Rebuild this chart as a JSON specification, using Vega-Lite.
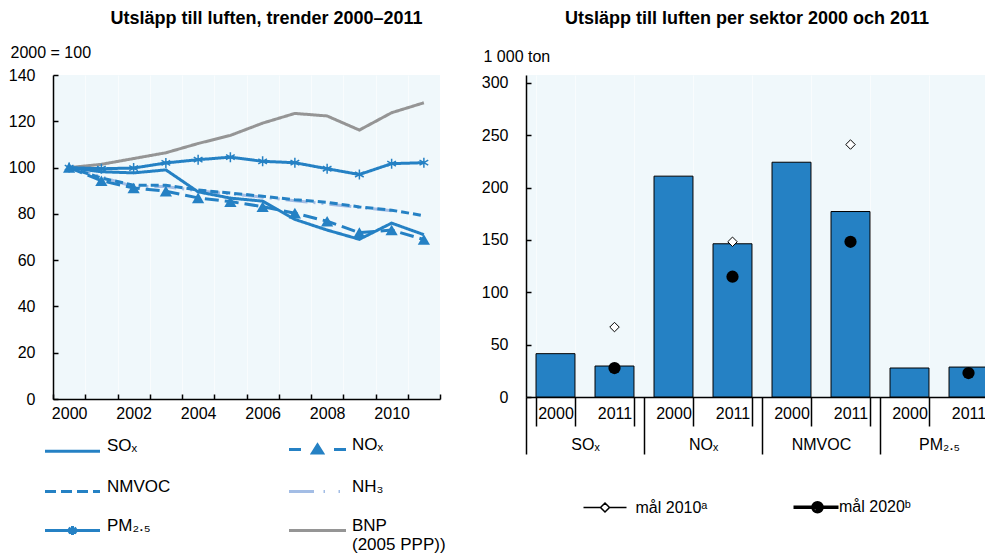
{
"$schema":"https://vega.github.io/schema/vega-lite/v6.json",
"padding":{"left":8,"top":10,"right":0,"bottom":0},
"config":{
 "font":"Liberation Sans, Arial, sans-serif",
 "view":{"fill":"#f0f8fb","stroke":null},
 "axis":{"domainColor":"#000000","domainWidth":1.5,"tickColor":"#000000","tickWidth":1.5,"labelColor":"#000000","labelFontSize":16,"titleFontSize":16,"titleFontWeight":"normal","titleColor":"#000000","grid":false},
 "title":{"fontSize":18,"fontWeight":"bold","color":"#000000"},
 "legend":{"labelFontSize":17,"labelColor":"#000000"}
},
"datasets":{
 "trend":[
  {"series":"BNP","year":2000,"value":100},{"series":"BNP","year":2001,"value":101.4},{"series":"BNP","year":2002,"value":103.9},{"series":"BNP","year":2003,"value":106.4},{"series":"BNP","year":2004,"value":110.4},{"series":"BNP","year":2005,"value":113.9},{"series":"BNP","year":2006,"value":119.2},{"series":"BNP","year":2007,"value":123.4},{"series":"BNP","year":2008,"value":122.3},{"series":"BNP","year":2009,"value":116.2},{"series":"BNP","year":2010,"value":123.7},{"series":"BNP","year":2011,"value":128.0},
  {"series":"NH₃","year":2000,"value":100},{"series":"NH₃","year":2001,"value":96.0},{"series":"NH₃","year":2002,"value":91.8},{"series":"NH₃","year":2003,"value":91.8},{"series":"NH₃","year":2004,"value":90.0},{"series":"NH₃","year":2005,"value":88.6},{"series":"NH₃","year":2006,"value":87.2},{"series":"NH₃","year":2007,"value":85.7},{"series":"NH₃","year":2008,"value":84.3},{"series":"NH₃","year":2009,"value":82.8},{"series":"NH₃","year":2010,"value":81.3},
  {"series":"NMVOC","year":2000,"value":100},{"series":"NMVOC","year":2001,"value":95.5},{"series":"NMVOC","year":2002,"value":92.4},{"series":"NMVOC","year":2003,"value":92.4},{"series":"NMVOC","year":2004,"value":90.3},{"series":"NMVOC","year":2005,"value":89.0},{"series":"NMVOC","year":2006,"value":87.6},{"series":"NMVOC","year":2007,"value":86.1},{"series":"NMVOC","year":2008,"value":85.0},{"series":"NMVOC","year":2009,"value":83.0},{"series":"NMVOC","year":2010,"value":81.6},{"series":"NMVOC","year":2011,"value":79.2},
  {"series":"SOₓ","year":2000,"value":100},{"series":"SOₓ","year":2001,"value":98.2},{"series":"SOₓ","year":2002,"value":97.7},{"series":"SOₓ","year":2003,"value":99.0},{"series":"SOₓ","year":2004,"value":89.5},{"series":"SOₓ","year":2005,"value":86.8},{"series":"SOₓ","year":2006,"value":85.5},{"series":"SOₓ","year":2007,"value":77.6},{"series":"SOₓ","year":2008,"value":73.0},{"series":"SOₓ","year":2009,"value":69.0},{"series":"SOₓ","year":2010,"value":76.0},{"series":"SOₓ","year":2011,"value":71.0},
  {"series":"NOₓ","year":2000,"value":100},{"series":"NOₓ","year":2001,"value":94.3},{"series":"NOₓ","year":2002,"value":91.2},{"series":"NOₓ","year":2003,"value":89.8},{"series":"NOₓ","year":2004,"value":86.9},{"series":"NOₓ","year":2005,"value":85.3},{"series":"NOₓ","year":2006,"value":83.1},{"series":"NOₓ","year":2007,"value":80.3},{"series":"NOₓ","year":2008,"value":76.8},{"series":"NOₓ","year":2009,"value":71.9},{"series":"NOₓ","year":2010,"value":73.0},{"series":"NOₓ","year":2011,"value":68.9},
  {"series":"PM₂.₅","year":2000,"value":100},{"series":"PM₂.₅","year":2001,"value":99.5},{"series":"PM₂.₅","year":2002,"value":99.8},{"series":"PM₂.₅","year":2003,"value":102.0},{"series":"PM₂.₅","year":2004,"value":103.4},{"series":"PM₂.₅","year":2005,"value":104.5},{"series":"PM₂.₅","year":2006,"value":102.7},{"series":"PM₂.₅","year":2007,"value":102.1},{"series":"PM₂.₅","year":2008,"value":99.5},{"series":"PM₂.₅","year":2009,"value":97.0},{"series":"PM₂.₅","year":2010,"value":101.7},{"series":"PM₂.₅","year":2011,"value":102.1}
 ],
 "bars":[
  {"sektor":"SOₓ","key":"SOₓ|2000","value":41.4},{"sektor":"SOₓ","key":"SOₓ|2011","value":29.6},
  {"sektor":"NOₓ","key":"NOₓ|2000","value":211},{"sektor":"NOₓ","key":"NOₓ|2011","value":146.4},
  {"sektor":"NMVOC","key":"NMVOC|2000","value":224.3},{"sektor":"NMVOC","key":"NMVOC|2011","value":177.2},
  {"sektor":"PM₂.₅","key":"PM₂.₅|2000","value":27.7},{"sektor":"PM₂.₅","key":"PM₂.₅|2011","value":28.6}
 ],
 "targets":[
  {"target":"mål 2010ᵃ","key":"SOₓ|2011","value":66.8},{"target":"mål 2010ᵃ","key":"NOₓ|2011","value":148.3},{"target":"mål 2010ᵃ","key":"NMVOC|2011","value":241.2},
  {"target":"mål 2020ᵇ","key":"SOₓ|2011","value":27.7},{"target":"mål 2020ᵇ","key":"NOₓ|2011","value":114.9},{"target":"mål 2020ᵇ","key":"NMVOC|2011","value":148.3},{"target":"mål 2020ᵇ","key":"PM₂.₅|2011","value":22.9}
 ]
},
"columns":2,
"spacing":35,
"align":"none",
"resolve":{"scale":{"shape":"independent","color":"independent"},"legend":{"shape":"independent","color":"independent"}},
"concat":[
 {
  "width":387,"height":324,
  "title":{"text":"Utsläpp till luften, trender 2000–2011","anchor":"middle","dx":20,"offset":16},
  "data":{"name":"trend"},
  "encoding":{
   "x":{"field":"year","type":"ordinal","bandPosition":0.5,
    "scale":{"type":"band","paddingInner":0,"paddingOuter":0},
    "axis":{"title":null,"labelAngle":0,"tickBand":"extent","tickSize":-5,"labelPadding":11,"labelExpr":"datum.value % 2 === 0 ? datum.label : ''","grid":true,"gridColor":"#ffffff","gridOpacity":0.6}},
   "y":{"field":"value","type":"quantitative","scale":{"domain":[0,140]},
    "axis":{"values":[0,20,40,60,80,100,120,140],"tickSize":-5,"labelPadding":23,"title":"2000 = 100","titleAngle":0,"titleAlign":"left","titleBaseline":"alphabetic","titleX":-43,"titleY":-18}}
  },
  "layer":[
   {"mark":{"type":"line","strokeWidth":3},
    "encoding":{
     "stroke":{"field":"series","type":"nominal","scale":{"domain":["SOₓ","NOₓ","NMVOC","NH₃","PM₂.₅","BNP"],"range":["#2581c4","#2581c4","#2581c4","#a3bde5","#2581c4","#959595"]},"legend":null},
     "strokeDash":{"field":"series","type":"nominal","scale":{"domain":["SOₓ","NOₓ","NMVOC","NH₃","PM₂.₅","BNP"],"range":[[1,0],[14,6],[8,4],[22,6,2,6,2,6],[1,0],[1,0]]},"legend":null}
    }},
   {"transform":[{"filter":"datum.series === 'NOₓ'"}],
    "mark":{"type":"point","shape":"triangle-up","filled":true,"color":"#2581c4","size":150,"opacity":1}},
   {"transform":[{"filter":"datum.series === 'PM₂.₅'"}],
    "mark":{"type":"point","shape":"M0,-1V1M-0.87,-0.5L0.87,0.5M-0.87,0.5L0.87,-0.5","filled":false,"color":"#2581c4","size":100,"strokeWidth":1.5,"opacity":1}},
   {"transform":[{"filter":"datum.year === 2000"}],
    "mark":{"type":"point","filled":false,"opacity":0,"strokeWidth":3},
    "encoding":{
     "color":{"field":"series","type":"nominal","scale":{"domain":["SOₓ","NOₓ","NMVOC","NH₃","PM₂.₅","BNP"],"range":["#2581c4","#2581c4","#2581c4","#a3bde5","#2581c4","#959595"]},
      "legend":{"orient":"none","legendX":-8,"legendY":363,"columns":2,"direction":"horizontal","title":null,
       "symbolSize":400,"symbolOffset":16,"labelOffset":23,"columnPadding":112,"rowPadding":18,"symbolStrokeWidth":3,"symbolOpacity":1,
       "labelFontSize":17,"labelBaseline":"alphabetic",
       "labelExpr":"datum.label === 'BNP' ? ['BNP','(2005 PPP))'] : datum.label"}},
     "shape":{"field":"series","type":"nominal",
      "scale":{"domain":["SOₓ","NOₓ","NMVOC","NH₃","PM₂.₅","BNP"],
       "range":["M-2.75,0H2.75","M-2.85,0H-1.65M-0.5,0.35L0,-0.45L0.5,0.35ZM-0.2,0.2L0,-0.15L0.2,0.2ZM1.65,0H2.85","M-2.75,0H-1.65M-1.15,0H-0.05M0.45,0H1.55M2.05,0H2.75","M-2.85,0H-0.35M0.6,0H0.75M2.1,0H2.25","M-2.75,0H2.75M0,-0.45V0.45M-0.4,-0.25L0.4,0.25M-0.4,0.25L0.4,-0.25","M-2.85,0H2.85"]},
      "legend":{"orient":"none","legendX":-8,"legendY":363,"columns":2,"direction":"horizontal","title":null,
       "symbolSize":400,"symbolOffset":16,"labelOffset":23,"columnPadding":112,"rowPadding":18,"symbolStrokeWidth":3,"symbolOpacity":1,
       "labelFontSize":17,"labelBaseline":"alphabetic",
       "labelExpr":"datum.label === 'BNP' ? ['BNP','(2005 PPP))'] : datum.label"}}
    }}
  ]
 },
 {
  "width":472,"height":322,
  "title":{"text":"Utsläpp till luften per sektor 2000 och 2011","anchor":"middle","dx":-15,"offset":20},
  "layer":[
   {"data":{"name":"bars"},
    "mark":{"type":"bar","fill":"#2581c4","stroke":"#000000","strokeWidth":1},
    "encoding":{
     "x":{"field":"key","type":"nominal","sort":null,
      "scale":{"domain":["SOₓ|2000","SOₓ|2011","NOₓ|2000","NOₓ|2011","NMVOC|2000","NMVOC|2011","PM₂.₅|2000","PM₂.₅|2011"],"paddingInner":0.34,"paddingOuter":0.17},
      "axis":{"orient":"bottom","title":null,"labelAngle":0,"tickBand":"extent","tickSize":29,"labelPadding":-21,"labelExpr":"split(datum.value,'|')[1]","grid":true,"gridColor":"#ffffff","gridOpacity":0.6}},
     "y":{"field":"value","type":"quantitative","scale":{"domain":[0,307.64],"nice":false},
      "axis":{"values":[0,50,100,150,200,250,300],"tickSize":-5,"labelPadding":23,"title":"1 000 ton","titleAngle":0,"titleAlign":"left","titleBaseline":"alphabetic","titleX":-43,"titleY":-14}}
    }},
   {"data":{"name":"targets"},"transform":[{"filter":"datum.target === 'mål 2010ᵃ'"}],
    "mark":{"type":"point","shape":"diamond","filled":true,"fill":"#ffffff","stroke":"#000000","strokeWidth":1,"size":90,"opacity":1},
    "encoding":{
     "x":{"field":"key","type":"nominal","sort":null,"scale":{"domain":["SOₓ|2000","SOₓ|2011","NOₓ|2000","NOₓ|2011","NMVOC|2000","NMVOC|2011","PM₂.₅|2000","PM₂.₅|2011"],"paddingInner":0.34,"paddingOuter":0.17},"axis":null},
     "y":{"field":"value","type":"quantitative"}
    }},
   {"data":{"name":"targets"},"transform":[{"filter":"datum.target === 'mål 2020ᵇ'"}],
    "mark":{"type":"point","shape":"circle","filled":true,"fill":"#000000","stroke":null,"size":150,"opacity":1},
    "encoding":{
     "x":{"field":"key","type":"nominal","sort":null,"scale":{"domain":["SOₓ|2000","SOₓ|2011","NOₓ|2000","NOₓ|2011","NMVOC|2000","NMVOC|2011","PM₂.₅|2000","PM₂.₅|2011"],"paddingInner":0.34,"paddingOuter":0.17},"axis":null},
     "y":{"field":"value","type":"quantitative"}
    }},
   {"data":{"name":"targets"},
    "mark":{"type":"point","filled":false,"opacity":0,"strokeWidth":1.5},
    "encoding":{
     "x":{"field":"key","type":"nominal","sort":null,"scale":{"domain":["SOₓ|2000","SOₓ|2011","NOₓ|2000","NOₓ|2011","NMVOC|2000","NMVOC|2011","PM₂.₅|2000","PM₂.₅|2011"],"paddingInner":0.34,"paddingOuter":0.17},"axis":null},
     "y":{"field":"value","type":"quantitative"},
     "color":{"field":"target","type":"nominal","scale":{"domain":["mål 2010ᵃ","mål 2020ᵇ"],"range":["#000000","#000000"]},
      "legend":{"orient":"none","legendX":55,"legendY":421,"direction":"horizontal","title":null,
       "symbolSize":400,"symbolOffset":13,"labelOffset":19.5,"columnPadding":76.5,"symbolOpacity":1,"symbolStrokeWidth":1.5,"labelFontSize":16}},
     "shape":{"field":"target","type":"nominal",
      "scale":{"domain":["mål 2010ᵃ","mål 2020ᵇ"],"range":["M-2.15,0H-0.45M0.45,0H2.15M-0.45,0L0,-0.45L0.45,0L0,0.45Z","M-1.5,-0.1H3.0M-1.5,0H3.0M-1.5,0.1H3.0M0.35,0A0.55,0.55,0,1,1,1.45,0A0.55,0.55,0,1,1,0.35,0ZM0.5,0A0.4,0.4,0,1,1,1.3,0A0.4,0.4,0,1,1,0.5,0ZM0.65,0A0.25,0.25,0,1,1,1.15,0A0.25,0.25,0,1,1,0.65,0ZM0.8,0A0.1,0.1,0,1,1,1.0,0A0.1,0.1,0,1,1,0.8,0Z"]},
      "legend":{"orient":"none","legendX":55,"legendY":421,"direction":"horizontal","title":null,
       "symbolSize":400,"symbolOffset":13,"labelOffset":19.5,"columnPadding":76.5,"symbolOpacity":1,"symbolStrokeWidth":1.5,"labelFontSize":16}}
    }},
   {"data":{"name":"bars"},
    "mark":{"type":"rule","opacity":0},
    "encoding":{
     "x":{"field":"sektor","type":"nominal","sort":null,
      "scale":{"type":"band","domain":["SOₓ","NOₓ","NMVOC","PM₂.₅"],"paddingInner":0,"paddingOuter":0},
      "axis":{"orient":"bottom","title":null,"labelAngle":0,"tickBand":"extent","tickSize":57,"labelPadding":-18,"domain":false}}
    }}
  ],
  "resolve":{"scale":{"x":"independent"}}
 }
]
}
